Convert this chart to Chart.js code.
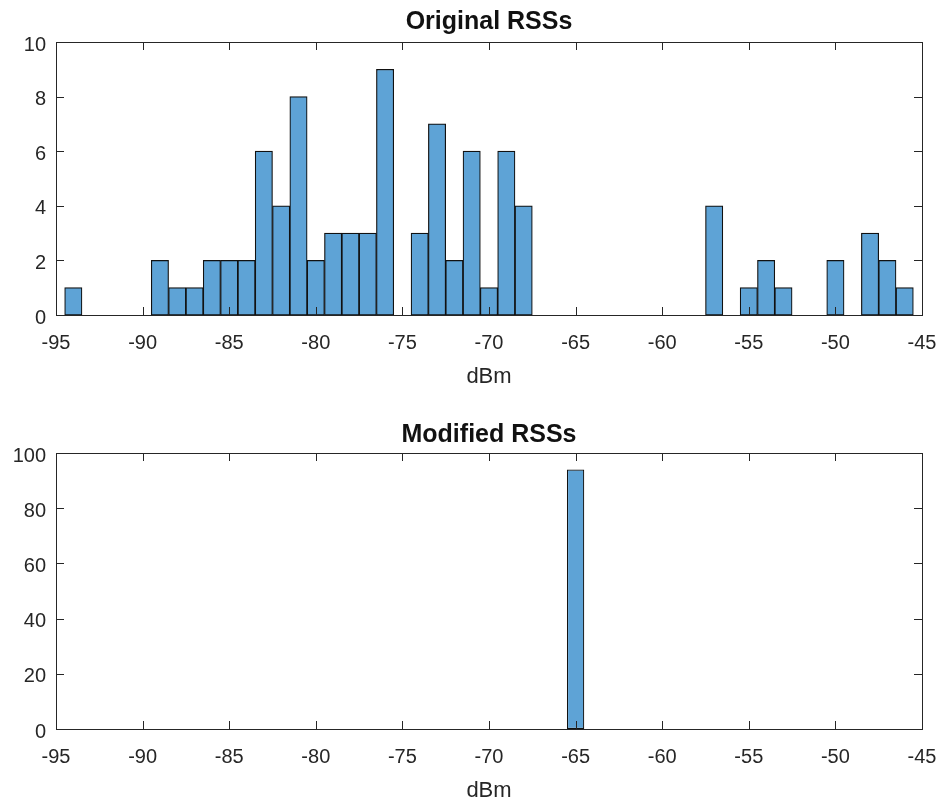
<!DOCTYPE html>
<html>
<head>
<meta charset="utf-8">
<title>RSS histograms</title>
<script src="https://cdn.jsdelivr.net/npm/chart.js"></script>
<style>
    body { margin: 0; background: #ffffff; }
    canvas { display: block; }
</style>
</head>
<body>
<canvas id="originalCanvas" width="945" height="400"></canvas>
<canvas id="modifiedCanvas" width="945" height="405"></canvas>
<script>
// Histogram bins (centre of each 1 dBm bin) and counts
var originalBins = [-94, -93, -92, -91, -90, -89, -88, -87, -86, -85,
                    -84, -83, -82, -81, -80, -79, -78, -77, -76, -75,
                    -74, -73, -72, -71, -70, -69, -68, -67, -66, -65,
                    -64, -63, -62, -61, -60, -59, -58, -57, -56, -55,
                    -54, -53, -52, -51, -50, -49, -48, -47, -46];
var originalCounts = [1, 0, 0, 0, 0, 2, 1, 1, 2, 2,
                      2, 6, 4, 8, 2, 3, 3, 3, 9, 0,
                      3, 7, 2, 6, 1, 6, 4, 0, 0, 0,
                      0, 0, 0, 0, 0, 0, 0, 4, 0, 1,
                      2, 1, 0, 0, 2, 0, 3, 2, 1];

var modifiedBins = [-65];
var modifiedCounts = [94];

var xTickLabels = [-95, -90, -85, -80, -75, -70, -65, -60, -55, -50, -45];
var originalYTicks = [0, 2, 4, 6, 8, 10];
var modifiedYTicks = [0, 20, 40, 60, 80, 100];

var FONT = 'Liberation Sans, Arial, sans-serif';
var BAR_COLOR = 'rgb(94, 163, 214)';
var EDGE_COLOR = '#111111';
var AXIS_COLOR = '#262626';
var TICK_LEN = 8;

function toPoints(bins, counts) {
    return bins.map(function(b, i) { return { x: b, y: counts[i] }; });
}

// MATLAB style box with inward ticks on all four sides, title centred on the axes
var boxAxes = {
    id: 'boxAxes',
    afterDatasetsDraw: function(chart, args, pluginOpts) {
        var ctx = chart.ctx;
        var a = chart.chartArea;
        var xs = chart.scales.x;
        var ys = chart.scales.y;
        ctx.save();
        ctx.strokeStyle = AXIS_COLOR;
        ctx.lineWidth = 1;
        ctx.beginPath();
        xs.ticks.forEach(function(t) {
            var px = Math.round(xs.getPixelForValue(t.value)) + 0.5;
            ctx.moveTo(px, a.bottom);
            ctx.lineTo(px, a.bottom - TICK_LEN);
            ctx.moveTo(px, a.top);
            ctx.lineTo(px, a.top + TICK_LEN);
        });
        ys.ticks.forEach(function(t) {
            var py = Math.round(ys.getPixelForValue(t.value)) + 0.5;
            ctx.moveTo(a.left, py);
            ctx.lineTo(a.left + TICK_LEN, py);
            ctx.moveTo(a.right, py);
            ctx.lineTo(a.right - TICK_LEN, py);
        });
        ctx.stroke();
        ctx.strokeRect(Math.round(a.left) + 0.5, Math.round(a.top) + 0.5,
                       Math.round(a.right - a.left), Math.round(a.bottom - a.top));

        ctx.fillStyle = '#111111';
        ctx.font = 'bold 25px ' + FONT;
        ctx.textAlign = 'center';
        ctx.textBaseline = 'middle';
        ctx.fillText(pluginOpts.text, (a.left + a.right) / 2, pluginOpts.y);
        ctx.restore();
    }
};

function makeHistogram(canvasId, opts) {
    var ctx = document.getElementById(canvasId).getContext('2d');
    var tickStep = xTickLabels[1] - xTickLabels[0];
    return new Chart(ctx, {
        type: 'bar',
        data: {
            datasets: [{
                data: toPoints(opts.bins, opts.counts),
                backgroundColor: BAR_COLOR,
                borderColor: EDGE_COLOR,
                borderWidth: 1.2,
                borderSkipped: false,
                categoryPercentage: 1,
                // a lone bar gets its width from the tick spacing
                barPercentage: opts.bins.length > 1 ? 1 : 1 / tickStep
            }]
        },
        options: {
            responsive: false,
            animation: false,
            devicePixelRatio: 1,
            layout: { padding: { left: 0, right: 23, top: opts.topSpace, bottom: 0 } },
            plugins: {
                legend: { display: false },
                tooltip: { enabled: false },
                title: { display: false },
                boxAxes: { text: opts.title, y: opts.titleY }
            },
            scales: {
                x: {
                    type: 'linear',
                    offset: false,
                    min: xTickLabels[0],
                    max: xTickLabels[xTickLabels.length - 1],
                    grid: { display: false, drawTicks: false, offset: false },
                    border: { display: false },
                    afterBuildTicks: function(scale) {
                        scale.ticks = xTickLabels.map(function(v) { return { value: v }; });
                    },
                    afterFit: function(scale) {
                        scale.height = opts.xAxisHeight;
                        scale.paddingLeft = 0;
                        scale.paddingRight = 0;
                    },
                    ticks: {
                        color: AXIS_COLOR,
                        padding: 16,
                        maxRotation: 0,
                        autoSkip: false,
                        font: { family: FONT, size: 20 }
                    },
                    title: {
                        display: true,
                        text: 'dBm',
                        color: AXIS_COLOR,
                        font: { family: FONT, size: 22 },
                        padding: { top: 0, bottom: opts.xTitlePad }
                    }
                },
                y: {
                    min: opts.yTicks[0],
                    max: opts.yTicks[opts.yTicks.length - 1],
                    grid: { display: false, drawTicks: false },
                    border: { display: false },
                    afterBuildTicks: function(scale) {
                        scale.ticks = opts.yTicks.map(function(v) { return { value: v }; });
                    },
                    afterFit: function(scale) {
                        scale.width = 56;
                        scale.paddingTop = 0;
                        scale.paddingBottom = 0;
                    },
                    ticks: {
                        color: AXIS_COLOR,
                        padding: 10,
                        labelOffset: 3,
                        font: { family: FONT, size: 20 }
                    }
                }
            }
        },
        plugins: [boxAxes]
    });
}

makeHistogram('originalCanvas', {
    title: 'Original RSSs',
    bins: originalBins,
    counts: originalCounts,
    yTicks: originalYTicks,
    topSpace: 42,
    titleY: 22,
    xAxisHeight: 85,
    xTitlePad: 10
});

makeHistogram('modifiedCanvas', {
    title: 'Modified RSSs',
    bins: modifiedBins,
    counts: modifiedCounts,
    yTicks: modifiedYTicks,
    topSpace: 53,
    titleY: 35,
    xAxisHeight: 76,
    xTitlePad: 1
});
</script>
</body>
</html>
